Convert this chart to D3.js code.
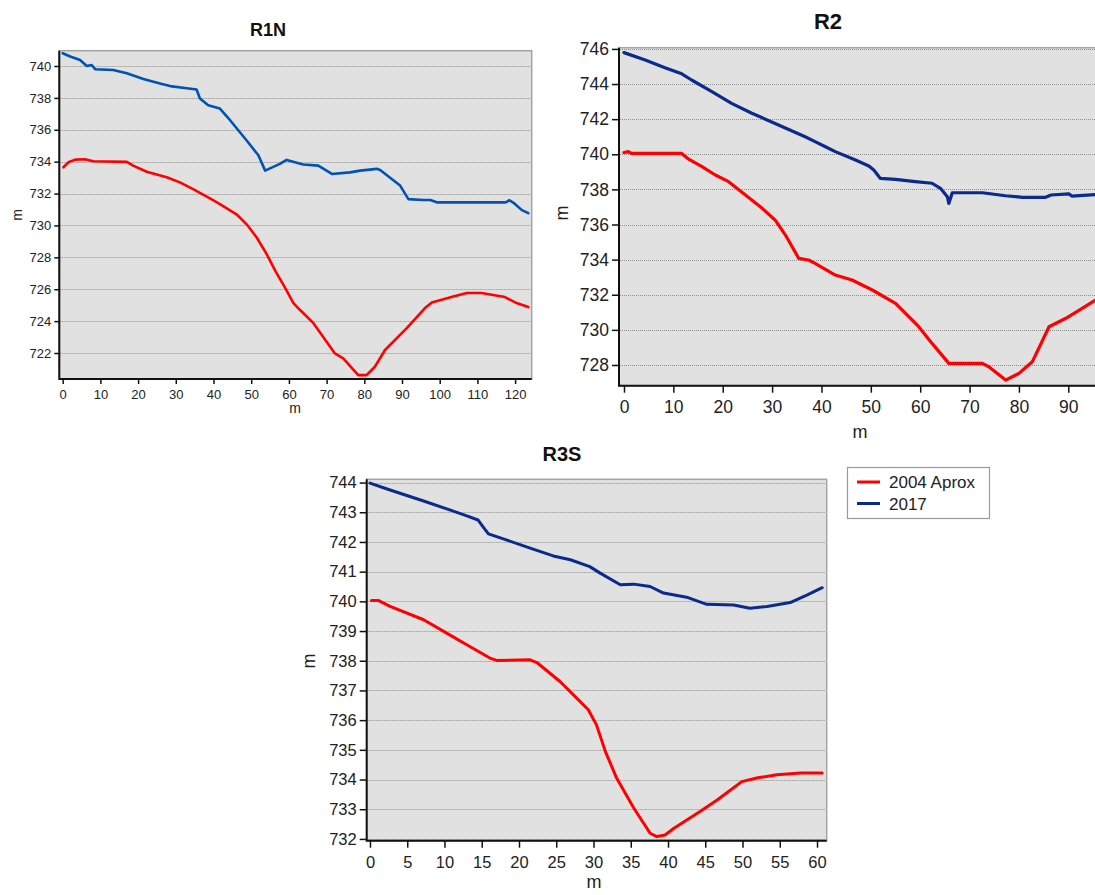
<!DOCTYPE html>
<html>
<head>
<meta charset="utf-8">
<script src="https://cdn.jsdelivr.net/npm/d3@7"></script>
<style>
  body { margin: 0; background: #fff; }
  svg { display: block; font-family: "Liberation Sans", Arial, sans-serif; }
</style>
</head>
<body>
<svg id="chart" width="1095" height="895"></svg>
<script>
// Cross-section profiles, elevation (m) vs distance (m)

const seriesNames = ["2004 Aprox", "2017"];

// R1N
const r1n2004 = [[0.2,733.65],[1.5,733.96],[3.3,734.13],[5.9,734.15],[8.1,734.03],[17,733.99],[18.7,733.75],[22.3,733.37],[27.6,733.02],[31.1,732.7],[34.6,732.28],[40,731.57],[41.7,731.34],[46.1,730.7],[48.8,730.07],[51.5,729.23],[54.1,728.2],[56.5,727.1],[59,726.08],[61.2,725.13],[62.9,724.71],[66.5,723.87],[70,722.71],[72.2,721.97],[74.4,721.66],[78.4,720.61],[80.6,720.61],[82.8,721.14],[85.5,722.19],[91.2,723.55],[96.1,724.82],[97.9,725.17],[103.6,725.55],[107.2,725.76],[111.1,725.76],[117.3,725.51],[120.4,725.13],[123.5,724.88]];
const r1n2017 = [[0,740.8],[2,740.6],[4.6,740.38],[6.4,740.0],[7.7,740.06],[8.6,739.8],[13.4,739.75],[17,739.54],[21.4,739.18],[25.8,738.9],[28.5,738.74],[32.9,738.6],[35.5,738.53],[36.4,737.96],[38.6,737.54],[41.7,737.33],[44.4,736.6],[48.8,735.33],[51.9,734.4],[53.7,733.44],[57.6,733.86],[59.4,734.11],[63.8,733.82],[67.8,733.75],[71.4,733.23],[76.2,733.33],[78.9,733.44],[83.3,733.55],[84.2,733.48],[89.5,732.5],[91.7,731.65],[95.6,731.6],[97.5,731.6],[99.2,731.45],[117.5,731.45],[118.5,731.58],[119.8,731.38],[121.8,730.96],[123.5,730.77]];
const r1nXTicks = d3.range(0, 121, 10);
const r1nYTicks = d3.range(722, 741, 2);

// R2
const r2_2004 = [[0,740.1],[0.9,740.15],[1.5,740.05],[11.7,740.05],[13.1,739.72],[15.8,739.3],[18.5,738.82],[21.2,738.44],[24.6,737.68],[28,736.92],[30.6,736.26],[32.7,735.4],[35.4,734.07],[37.4,733.98],[38.7,733.79],[40.8,733.45],[42.8,733.12],[46.2,732.84],[50.3,732.27],[55,731.51],[59.7,730.18],[62.4,729.23],[65.8,728.09],[72.6,728.09],[73.9,727.9],[77.3,727.14],[80,727.52],[82.7,728.18],[86.1,730.18],[89.5,730.66],[92.8,731.22],[95.5,731.7],[98.5,732.1]];
const r2_2017 = [[0,745.79],[4.3,745.37],[8.3,744.93],[11.7,744.58],[13.7,744.23],[17.8,743.57],[21.8,742.9],[25.9,742.34],[31.3,741.67],[36.7,741.0],[38.7,740.72],[40.8,740.43],[42.8,740.15],[46.9,739.67],[49.6,739.33],[50.6,739.1],[51.9,738.63],[55,738.57],[59,738.44],[62.4,738.35],[64.1,738.06],[65.5,737.58],[65.8,737.2],[66.5,737.81],[72.6,737.81],[77.3,737.64],[80.7,737.55],[85.4,737.55],[86.5,737.68],[90.1,737.75],[90.7,737.62],[95.5,737.7],[98.5,737.75]];
const r2XTicks = d3.range(0, 91, 10);
const r2YTicks = d3.range(728, 747, 2);

// R3S
const r3s2004 = [[0.2,740.03],[1.1,740.03],[2.7,739.83],[7.2,739.38],[10.7,738.87],[13.4,738.48],[16.1,738.09],[17,738.01],[21.5,738.03],[22.4,737.94],[25.5,737.3],[27.3,736.85],[29.3,736.35],[30.4,735.84],[31.6,734.94],[33.1,734.05],[35.4,733.04],[37.6,732.19],[38.5,732.08],[39.6,732.13],[40.8,732.36],[44.3,732.92],[46.6,733.31],[49.9,733.93],[51.9,734.05],[54.6,734.16],[57.8,734.22],[60.7,734.22]];
const r3s2017 = [[0,743.98],[2.7,743.75],[7.2,743.38],[10.7,743.08],[13,742.88],[14.5,742.74],[15.2,742.5],[15.9,742.27],[18.3,742.07],[21.5,741.79],[24.6,741.53],[26.9,741.4],[29.5,741.17],[30.9,740.95],[33.6,740.56],[35.4,740.58],[37.6,740.5],[39.4,740.28],[42.5,740.14],[45.2,739.9],[48.8,739.88],[51,739.77],[53.3,739.83],[56.4,739.96],[58.7,740.22],[60.7,740.46]];
const r3sXTicks = d3.range(0, 61, 5);
const r3sYTicks = d3.range(732, 745, 1);

const RED = "#ff0000";
const NAVY = "#0a2a8c";

const panels = [
    { title: "R1N", tx: 268, ty: 36, tsize: 18,
      box: [59.3, 50.7, 531.7, 379], xDomain: [-0.9, 124.4], yDomain: [720.37, 740.96],
      xTicks: r1nXTicks, yTicks: r1nYTicks, font: 13, tick: 5, xPad: 6, lw: 2.6,
      xLab: [295, 413], yLab: [17, 215], labSize: 14,
      series: [r1n2004, r1n2017], colors: [RED, "#0052b4"] },
    { title: "R2", tx: 828, ty: 29, tsize: 22,
      box: [619, 47.7, 1112, 385.7], xDomain: [-1.01, 98.85], yDomain: [726.82, 746.07],
      xTicks: r2XTicks, yTicks: r2YTicks, font: 17.5, tick: 7, xPad: 8, lw: 3.2,
      xLab: [860, 438], yLab: [562, 213], labSize: 18,
      series: [r2_2004, r2_2017], colors: [RED, NAVY] },
    { title: "R3S", tx: 562, ty: 461, tsize: 20,
      box: [366.7, 479.3, 826.7, 840.7], xDomain: [-0.44, 61.3], yDomain: [731.94, 744.11],
      xTicks: r3sXTicks, yTicks: r3sYTicks, font: 16.5, tick: 7, xPad: 9, lw: 3,
      xLab: [594, 888], yLab: [309, 661], labSize: 18,
      series: [r3s2004, r3s2017], colors: [RED, NAVY] }
];

const svg = d3.select("#chart");

function drawPanel(p, i) {
    const [x0, y0, x1, y1] = p.box;
    const g = svg.append("g").attr("class", "panel");

    const x = d3.scaleLinear().domain(p.xDomain).range([x0, x1]);
    const y = d3.scaleLinear().domain(p.yDomain).range([y1, y0]);

    // plot background + light frame
    g.append("rect")
        .attr("x", x0).attr("y", y0)
        .attr("width", x1 - x0).attr("height", y1 - y0)
        .attr("fill", "#e1e1e1")
        .attr("stroke", "#a4a4a4")
        .attr("stroke-width", 1.5);

    // dotted gridlines
    g.append("g").selectAll("line")
        .data(p.yTicks)
        .enter().append("line")
        .attr("x1", x0 + 1).attr("x2", x1 - 1)
        .attr("y1", d => Math.round(y(d)) + 0.5)
        .attr("y2", d => Math.round(y(d)) + 0.5)
        .attr("stroke", "#8f8f8f")
        .attr("stroke-width", 1)
        .attr("stroke-dasharray", "1,1");

    // clip for the lines
    const clipId = "clip" + i;
    svg.append("clipPath").attr("id", clipId)
        .append("rect").attr("x", x0).attr("y", y0 - 2)
        .attr("width", x1 - x0).attr("height", y1 - y0 + 4);

    const line = d3.line().x(d => x(d[0])).y(d => y(d[1]));
    p.series.forEach((s, k) => {
        g.append("path")
            .datum(s)
            .attr("d", line)
            .attr("fill", "none")
            .attr("stroke", p.colors[k])
            .attr("stroke-width", p.lw)
            .attr("stroke-linejoin", "round")
            .attr("stroke-linecap", "round")
            .attr("clip-path", `url(#${clipId})`);
    });

    // axes
    const xAxis = d3.axisBottom(x).tickValues(p.xTicks).tickSize(p.tick).tickSizeOuter(0).tickPadding(p.xPad);
    const yAxis = d3.axisLeft(y).tickValues(p.yTicks).tickSize(p.tick).tickSizeOuter(0).tickPadding(3);

    const gx = g.append("g").attr("transform", `translate(0,${y1})`).call(xAxis);
    const gy = g.append("g").attr("transform", `translate(${x0},0)`).call(yAxis);

    [gx, gy].forEach(a => {
        a.select(".domain").remove();
        a.selectAll(".tick line").attr("stroke", "#111").attr("stroke-width", 1.5);
        a.selectAll(".tick text")
            .attr("fill", "#222")
            .attr("font-size", p.font)
            .attr("font-family", "Liberation Sans, Arial, sans-serif");
    });

    // black left and bottom axis lines
    g.append("path")
        .attr("d", `M${x0},${y0}V${y1}H${x1}`)
        .attr("fill", "none")
        .attr("stroke", "#111")
        .attr("stroke-width", 2);

    // title
    g.append("text")
        .attr("x", p.tx).attr("y", p.ty)
        .attr("text-anchor", "middle")
        .attr("font-size", p.tsize)
        .attr("font-weight", "bold")
        .attr("fill", "#111")
        .text(p.title);

    // axis titles
    g.append("text")
        .attr("x", p.xLab[0]).attr("y", p.xLab[1])
        .attr("text-anchor", "middle")
        .attr("font-size", p.labSize)
        .attr("fill", "#222")
        .text("m");

    g.append("text")
        .attr("transform", `translate(${p.yLab[0]},${p.yLab[1]}) rotate(-90)`)
        .attr("text-anchor", "middle")
        .attr("dy", "0.35em")
        .attr("font-size", p.labSize)
        .attr("fill", "#222")
        .text("m");
}

panels.forEach(drawPanel);

// legend
const legend = svg.append("g").attr("class", "legend");
legend.append("rect")
    .attr("x", 847.5).attr("y", 467.5)
    .attr("width", 142).attr("height", 51)
    .attr("fill", "#fff")
    .attr("stroke", "#9a9a9a")
    .attr("stroke-width", 1.2);

const legendColors = [RED, NAVY];
seriesNames.forEach((name, k) => {
    const ly = 482 + k * 21.5;
    legend.append("line")
        .attr("x1", 857).attr("x2", 880)
        .attr("y1", ly).attr("y2", ly)
        .attr("stroke", legendColors[k])
        .attr("stroke-width", 3);
    legend.append("text")
        .attr("x", 889).attr("y", ly)
        .attr("dy", "0.36em")
        .attr("font-size", 17)
        .attr("fill", "#222")
        .text(name);
});
</script>
</body>
</html>
